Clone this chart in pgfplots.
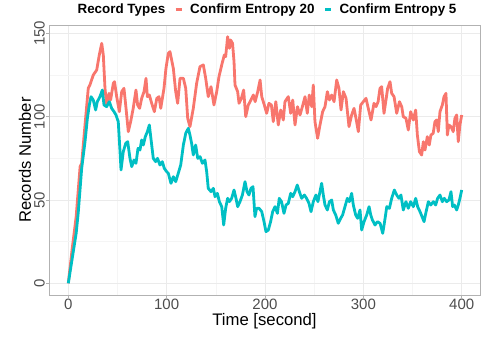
\documentclass[border=0pt]{standalone}
\usepackage{pgfplots}
\pgfplotsset{compat=1.18}
\usepackage{fontspec}
\setmainfont{Liberation Sans}
\definecolor{cred}{HTML}{F8766D}
\definecolor{cteal}{HTML}{00BFC4}
\definecolor{gridmaj}{HTML}{EBEBEB}
\definecolor{gridmin}{HTML}{F5F5F5}
\definecolor{tickcol}{HTML}{4D4D4D}
\begin{document}
\begin{tikzpicture}
\useasboundingbox (-49bp,-42bp) rectangle (434bp,295bp);
\begin{axis}[
 scale only axis, width=431bp, height=270bp,
 xmin=-19.62, xmax=418.6, ymin=-7, ymax=155,
 xtick={0,100,200,300,400}, minor xtick={50,150,250,350},
 ytick={0,50,100,150}, minor ytick={25,75,125},
 grid=both,
 major grid style={draw=gridmaj, line width=0.8bp},
 minor grid style={draw=gridmin, line width=0.6bp},
 axis line style={draw=gray!60, line width=0.8bp},
 tick pos=left, tick align=outside, major tick length=3bp, minor tick length=0pt,
 tick style={gray!60, line width=0.8bp},
 /pgf/number format/assume math mode=true,
 xticklabel style={font=\fontsize{15bp}{18bp}\selectfont, text=tickcol, anchor=north, inner sep=1bp},
 yticklabel style={font=\fontsize{15bp}{18bp}\selectfont, text=tickcol, rotate=90, anchor=south, inner sep=1bp},
 xlabel={Time [second]},
 xlabel style={at={([yshift=-30bp]axis description cs:0.5,0)}, anchor=base, font=\fontsize{16.7bp}{20bp}\selectfont},
 ylabel={Records Number},
 ylabel style={at={([xshift=-18bp]axis description cs:0,0.5)}, anchor=base, font=\fontsize{16.6bp}{20bp}\selectfont},
 legend style={at={(0.5,1.0574)}, anchor=center, draw=none, fill=none, legend columns=-1,
   font=\bfseries\fontsize{13.4bp}{16bp}\selectfont,
   /tikz/every even column/.append style={column sep=7bp},
   /tikz/every odd column/.append style={column sep=5bp}},
 legend image code/.code={\draw[#1, line width=3bp, line cap=butt] (0bp,0bp) -- (6bp,0bp);},
]
\addlegendimage{empty legend}
\addlegendentry{Record Types}
\addplot[cred, line width=2.8bp, line join=round] table {
0 0
4 21
8 40
12 70
13.6 72
17 95
20.3 117
22 119
25.4 125
28.9 128
31.5 137
34 144
35.6 137
37.3 117
39 107
41.4 114
43 110
45.8 120
47 121
49.2 112
51.9 103
54.3 115
56.6 117
58.7 105
61 91
63.4 97
66 105
68.8 116
70.5 107
72.5 105
74.6 111
77 115
79 123
80.4 112
82.4 113
84.8 108
87.5 103
90 111
92.2 112
94 105
97.3 117
99.3 129
101.7 138
103.4 139
106.8 129
109.2 115
111.2 108
113.6 123
117 123
119.4 117
121.4 99
123.7 94
127.1 105
130.5 120
133.9 130
137.3 131
139.7 123
142.3 112
145.1 118
148.1 107
150.9 115
153.2 124
156 131
158.6 137
160 136
162 148
163.8 141
165 146
167 144
168.5 133
169.5 119
172.2 115
173.6 108
176 111
178.3 116
180.4 100
183 107
185.7 110
188.1 113
190 109
192.6 115
195 122
196.7 112
199.3 107
201.7 102
204 108
206.5 107
208.4 97
211 109
213.5 95
216 104
218.6 98
220.3 109
223.7 112
226.1 102
228.2 110
230.5 95
233 106
235.6 101
238 106
240.7 112
243 102
245 113
247.5 106
249.1 119
250.8 97
253.5 87
255.9 95
258.6 103
261 106
263.4 115
265.5 110
267.8 113
270.2 109
272.9 122
275.2 117
277.3 104
279.7 115
282.4 111
285.4 94
288.1 101
290.5 105
292.5 99
294.9 91
297.3 107
300 109
302.7 111
305 105
307.8 98
310.8 108
312.9 106
315 109
316.9 117
318.6 118
321 102
323 110
324.7 117
327.1 121
328.8 114
331.2 112
333.9 102
336.7 109
339 106
340.6 100
343.3 99
345.7 92
348.1 103
350.8 98
353.2 104
354.9 89
357 79
359.3 77
361 85
362.7 80
365 88
367 83
368.7 89
371 90
372.8 97
374.5 98
376.2 91
377.9 103
380.3 107
382 112
384 114
385.4 89
387 95
389.1 94
391.4 91
393.1 99
394.9 101
396.5 85
398.2 95
400 101
};
\addlegendentry{Confirm Entropy 20}
\addplot[cteal, line width=2.8bp, line join=round] table {
0 0
4 15
8 30
10.2 43
13.6 69
17 85
19.4 99
21.4 107
23.1 112
25.4 110
27.8 104
29.5 109
32.2 112
34.6 116
36.3 107
39 106
41.7 109
44.1 105
46.5 103
48.5 101
50.8 97
52.6 79
53.6 68
55.9 79
58.4 84
60.4 85
62.7 75
64.5 70
66.8 74
68.8 72
70.9 81
72.9 80
74.6 86
76.3 83
78.3 88
80.4 91
82.4 95
84.4 85
86.4 75
88.8 73
90.7 75
93.2 71
95.6 73
97.6 69
100 67
101.7 66
104.4 60
106.8 64
109.2 61
111.8 66
114.3 71
117 83
119.4 90
122 93
123.7 89
125.4 84
127.1 77
129.5 83
131.6 75
134 76
136.3 72
139 74
140.7 67
142.3 57
145.1 55
147.5 57
149.2 52
151.6 54
153.6 49
156 46
158 35
160 45
162 51
163.8 49
166.1 51
168.5 56
170.5 51
172.2 46
174.6 49
177 53
179.7 61
181.7 55
183.7 53
185.7 57
187.8 58
189.8 40
191.5 45
194 45
196.7 43
199 37
201 31
203.4 32
205.7 37
207.8 43
210.2 46
212.6 42
214.5 51
216.8 49
219.3 42
221.4 47
223.7 48
226.1 54
228.2 52
230.5 55
232.8 59
234.9 55
237.3 51
240 53
242.3 51
244.7 48
246.8 43
249.1 49
251.8 53
253.8 49
255.9 55
257.6 60
259.3 53
261 47
263.4 44
265.5 49
267.8 50
269.5 44
271.9 41
274.5 36
276.9 39
278.9 41
281.3 46
283.7 51
285.8 49
288.1 54
289.8 47
292.2 41
294.2 39
296.6 44
298.3 32
300.7 37
303.4 41
305.8 46
307.5 41
309.2 38
311.9 35
314.3 37
317 36
319.7 30
322.1 39
323.8 46
326.5 45
328.8 51
331.5 56
333.9 53
336.2 51
338.2 53
340.6 44
343.3 49
345.7 45
348.1 49
350.8 46
353.2 51
355.2 46
357.6 43
359.7 40
361.7 37
363.8 43
366.1 49
368.5 47
371.2 49
373.5 47
375.5 51
377.9 53
380.3 49
382.3 51
384.7 49
387 50
389.1 55
390.8 46
392.5 47
394.9 44
396.5 47
398.2 51
400 56
};
\addlegendentry{Confirm Entropy 5}
\end{axis}
\end{tikzpicture}
\end{document}
